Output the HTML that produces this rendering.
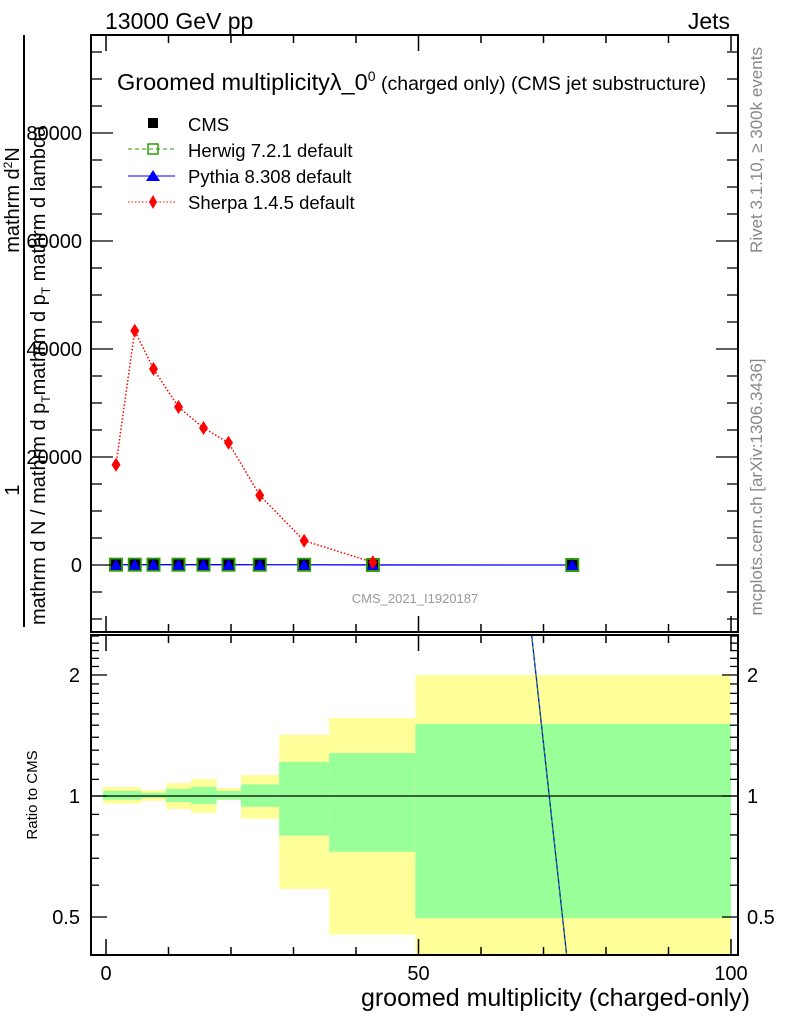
<!DOCTYPE html>
<html><head><meta charset="utf-8"><style>
body{margin:0;background:#fff;}
svg text{font-family:"Liberation Sans",sans-serif;}
</style></head><body>
<svg id="chart" width="786" height="1024" xmlns="http://www.w3.org/2000/svg">
<defs>
<clipPath id="mainClip"><rect x="91" y="35" width="647" height="597"/></clipPath>
<clipPath id="ratioClip"><rect x="91" y="635" width="647" height="320"/></clipPath>
</defs>
<g id="bands" clip-path="url(#ratioClip)"></g>
<g id="marks"></g>
<g id="axes"></g>
<text x="105" y="29" font-size="23">13000 GeV pp</text>
<text x="730" y="29" font-size="23" text-anchor="end">Jets</text>
<text x="117" y="90" font-size="23.5">Groomed multiplicityλ_0<tspan font-size="14" dy="-9">0</tspan><tspan font-size="19.5" dy="9"> (charged only) (CMS jet substructure)</tspan></text>
<text transform="translate(762,150) rotate(-90)" font-size="17" fill="#888" text-anchor="middle">Rivet 3.1.10, ≥ 300k events</text>
<text transform="translate(762,487) rotate(-90)" font-size="17" fill="#888" text-anchor="middle">mcplots.cern.ch [arXiv:1306.3436]</text>
<text x="415" y="603" font-size="13" fill="#999" text-anchor="middle">CMS_2021_I1920187</text>
<g>
<line x1="24" y1="35" x2="24" y2="627" stroke="#000" stroke-width="2"/>
<text transform="translate(19,490) rotate(-90)" font-size="20" text-anchor="middle">1</text>
<text transform="translate(19,200) rotate(-90)" font-size="20" text-anchor="middle">mathrm d<tspan font-size="12" dy="-7">2</tspan><tspan dy="7">N</tspan></text>
<text transform="translate(45,625) rotate(-90)" font-size="20">mathrm d N / mathrm d p<tspan font-size="12" dy="5">T</tspan><tspan dy="-5">mathrm d p</tspan><tspan font-size="12" dy="5">T</tspan><tspan dy="-5"> mathrm d lambda</tspan></text>
</g>
<text transform="translate(37,795) rotate(-90)" font-size="15" text-anchor="middle">Ratio to CMS</text>
<text x="750" y="1006" font-size="25" text-anchor="end">groomed multiplicity (charged-only)</text>
<g>
<g><rect x="148" y="118" width="10" height="10" fill="#000"/><text x="188" y="131" font-size="18.5">CMS</text></g>
<g><line x1="128" y1="149" x2="175" y2="149" stroke="#2a9d00" stroke-dasharray="4,3"/><rect x="148" y="144" width="10" height="10" fill="none" stroke="#2a9d00" stroke-width="1.5"/><text x="188" y="157" font-size="18.5">Herwig 7.2.1 default</text></g>
<g><line x1="128" y1="176" x2="175" y2="176" stroke="#0000ff"/><path d="M146,181 L153,170 L160,181Z" fill="#0000ff"/><text x="188" y="183" font-size="18.5">Pythia 8.308 default</text></g>
<g><line x1="128" y1="202" x2="175" y2="202" stroke="#ff0000" stroke-dasharray="1.5,2"/><path d="M153,195 L157,202 L153,209 L149,202Z" fill="#ff0000"/><text x="188" y="209" font-size="18.5">Sherpa 1.4.5 default</text></g>
</g>
</svg>
<script>
const xCenters=[1.6,4.6,7.6,11.6,15.6,19.6,24.6,31.7,42.7,74.6];
const cmsValues=[60,60,60,60,60,60,50,40,10,2];
const herwigValues=[60,60,60,60,60,60,50,40,10,2];
const pythiaValues=[60,60,60,60,60,60,50,40,10,2];
const sherpaValues=[18570,43390,36300,29260,25370,22650,12900,4500,500];
const sherpaErrors=[400,1100,700,500,450,450,350,250,150];
const bandEdges=[-0.5,5.7,9.6,13.6,17.7,21.6,27.7,35.7,49.5,100];
const totalUp=[1.053,1.035,1.077,1.102,1.047,1.128,1.42,1.563,2.0];
const totalDown=[0.957,0.972,0.928,0.907,0.977,0.878,0.587,0.452,0.30];
const statUp=[1.029,1.019,1.041,1.053,1.029,1.069,1.215,1.279,1.51];
const statDown=[0.979,0.989,0.966,0.955,0.979,0.940,0.797,0.727,0.497];
const pythiaRatioX=[42.7,74.6];
const pythiaRatio=[10200,0.30];
const mainYTicks=[0,20000,40000,60000,80000];
const ratioTicks=[0.5,1,2];
const xTicks=[0,50,100];

const NS="http://www.w3.org/2000/svg";
const X=v=>106+6.25*v;
const Y=v=>565-v*0.0054;
const R=v=>796-402*Math.log10(v);
function mk(tag,attrs,parent){const e=document.createElementNS(NS,tag);for(const k in attrs)e.setAttribute(k,attrs[k]);parent.appendChild(e);return e;}
const bands=document.getElementById('bands'),marks=document.getElementById('marks'),axes=document.getElementById('axes');
for(let i=0;i<totalUp.length;i++){
 const x0=X(bandEdges[i]),x1=X(bandEdges[i+1]);
 const yb=mk('rect',{x:x0,y:R(totalUp[i]),width:x1-x0,height:R(totalDown[i])-R(totalUp[i]),fill:'#ffff99'},bands);
 
 
 const gb=mk('rect',{x:x0,y:R(statUp[i]),width:x1-x0,height:R(statDown[i])-R(statUp[i]),fill:'#99ff99'},bands);
 
 
}
mk('line',{x1:91,x2:738,y1:R(1),y2:R(1),stroke:'#000','stroke-width':1.2},bands);
const rl=mk('polyline',{points:pythiaRatioX.map((x,i)=>X(x)+','+R(pythiaRatio[i])).join(' '),fill:'none',stroke:'#0000ff','stroke-width':1.3},bands);


const rl2=mk('polyline',{points:pythiaRatioX.map((x,i)=>X(x)+','+R(pythiaRatio[i])).join(' '),fill:'none',stroke:'#2a9d00','stroke-width':1,'stroke-dasharray':'4,3'},bands);



const mg=mk('g',{'clip-path':'url(#mainClip)'},marks);
const sl=mk('polyline',{points:sherpaValues.map((v,i)=>X(xCenters[i])+','+Y(v)).join(' '),fill:'none',stroke:'#ff0000','stroke-width':1.5,'stroke-dasharray':'1.5,2'},mg);


mk('polyline',{points:pythiaValues.map((v,i)=>X(xCenters[i])+','+Y(v)).join(' '),fill:'none',stroke:'#0000ff','stroke-width':1.3},mg);
xCenters.forEach((x,i)=>{
 const px=X(x);
 const h=mk('rect',{x:px-6,y:Y(herwigValues[i])-6,width:12,height:12,fill:'#000',stroke:'#2a9d00','stroke-width':2},mg);
 
 
 const c=mk('rect',{x:px-5,y:Y(cmsValues[i])-5,width:10,height:10,fill:'#000'},mg);
 
 
 const py=Y(pythiaValues[i]);
 const p=mk('path',{d:`M${px-6},${py+5} L${px},${py-6} L${px+6},${py+5}Z`,fill:'#0000ff'},mg);
 
 
});
sherpaValues.forEach((v,i)=>{
 const px=X(xCenters[i]),py=Y(v);
 mk('line',{x1:px,x2:px,y1:Y(v+sherpaErrors[i]),y2:Y(v-sherpaErrors[i]),stroke:'#ff0000','stroke-width':1.5},mg);
 const d=mk('path',{d:`M${px},${py-7} L${px+4.5},${py} L${px},${py+7} L${px-4.5},${py}Z`,fill:'#ff0000'},mg);
 
 
});

[[35,632],[635,955]].forEach(([t,b],k)=>{
 const f=mk('rect',{x:91,y:t,width:647,height:b-t,fill:'none',stroke:'#000','stroke-width':2},axes);
 
 
 for(let v=0;v<=100;v+=10){
  const len=(v%50===0)?16:8;
  mk('line',{x1:X(v),x2:X(v),y1:b,y2:b-len,stroke:'#000','stroke-width':1.5},axes);
  mk('line',{x1:X(v),x2:X(v),y1:t,y2:t+len,stroke:'#000','stroke-width':1.5},axes);
 }
});
for(let v=-10000;v<=95000;v+=5000){
 const y=Y(v);const len=(v%20000===0)?22:11;
 mk('line',{x1:91,x2:91+len,y1:y,y2:y,stroke:'#000','stroke-width':1.3},axes);
 mk('line',{x1:738,x2:738-len,y1:y,y2:y,stroke:'#000','stroke-width':1.3},axes);
}
mainYTicks.forEach(v=>{
 const t=mk('text',{x:82,y:Y(v)+7,'font-size':20,'text-anchor':'end'},axes);t.textContent=String(v);
 
 
});
const rminor=[0.4,0.5,0.6,0.7,0.8,0.9,1,1.1,1.2,1.3,1.4,1.5,1.6,1.7,1.8,1.9,2,2.1,2.2,2.3,2.4,2.5];
rminor.forEach(v=>{
 const y=R(v);if(y<636||y>954)return;const len=ratioTicks.includes(v)?16:8;
 mk('line',{x1:91,x2:91+len,y1:y,y2:y,stroke:'#000','stroke-width':1.3},axes);
 mk('line',{x1:738,x2:738-len,y1:y,y2:y,stroke:'#000','stroke-width':1.3},axes);
});
ratioTicks.forEach(v=>{
 const a=mk('text',{x:80,y:R(v)+7,'font-size':20,'text-anchor':'end'},axes);a.textContent=String(v);
 
 
 const b=mk('text',{x:747,y:R(v)+7,'font-size':20},axes);b.textContent=String(v);
 
 
});
xTicks.forEach(v=>{
 const t=mk('text',{x:X(v),y:980,'font-size':20,'text-anchor':'middle'},axes);t.textContent=String(v);
 
 
});
</script>
</body></html>
